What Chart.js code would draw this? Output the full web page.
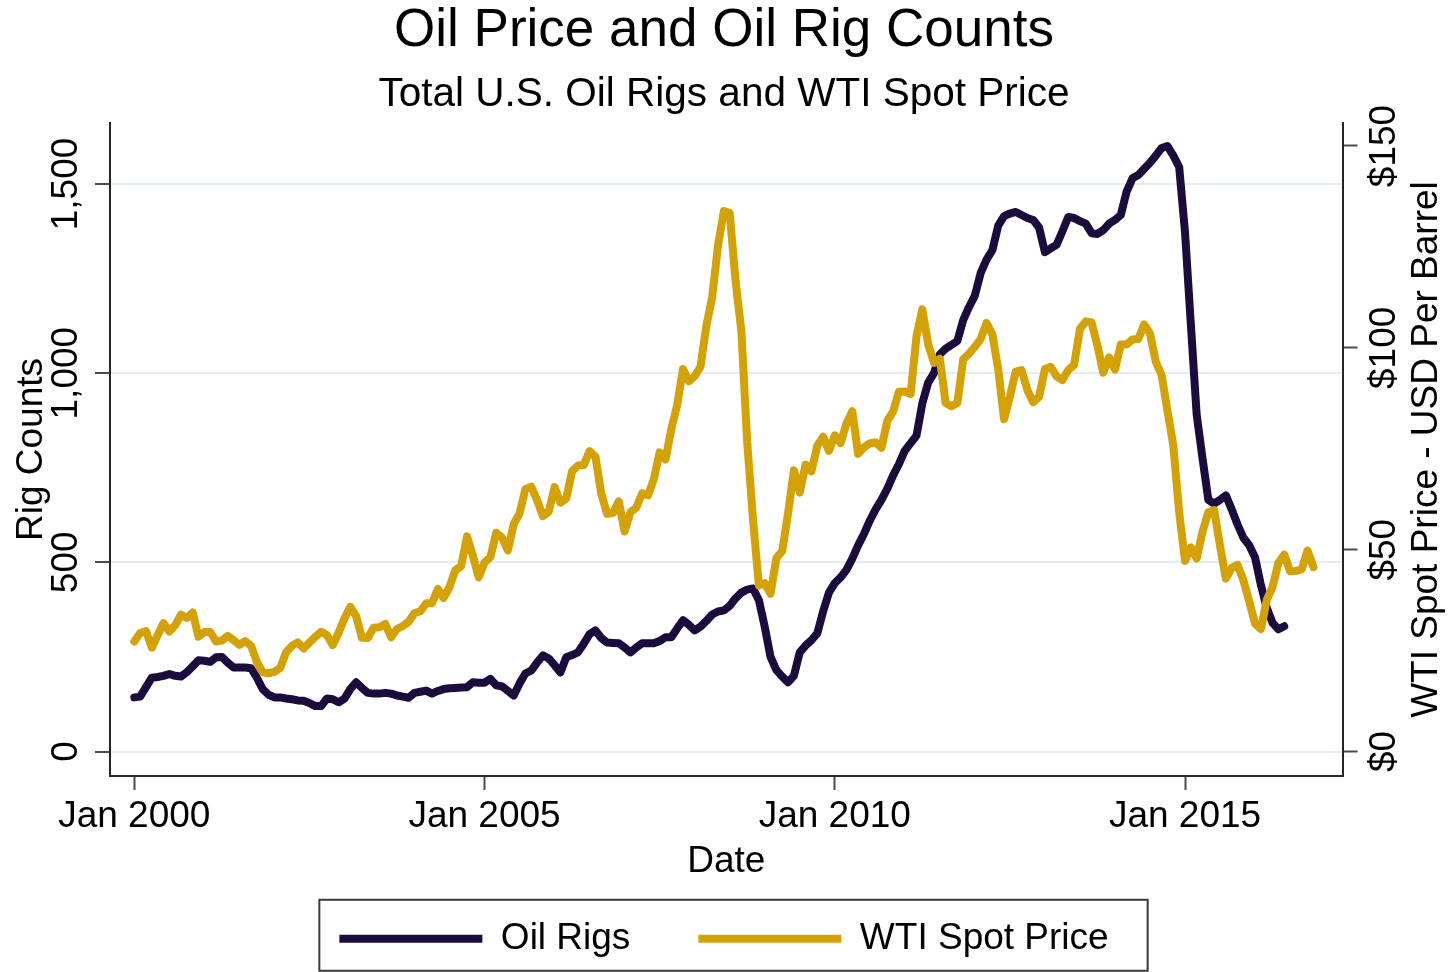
<!DOCTYPE html>
<html>
<head>
<meta charset="utf-8">
<script src="https://cdn.jsdelivr.net/npm/chart.js@4.4.1/dist/chart.umd.min.js"></script>
<style>
html,body{margin:0;padding:0;background:#ffffff;}
canvas{display:block;}
</style>
</head>
<body>
<canvas id="c" width="1448" height="972"></canvas>
<script>
// ---------------- DATA ----------------
// Monthly series starting Jan 2000 (index 0 = Jan 2000)
const startYear = 2000;

// Total U.S. oil rigs (monthly), Jan 2000 - Jun 2016
const oilRigs = [
  143, 145, 170, 195, 197, 200, 205, 200, 198, 210, 225, 241,      // 2000
  240, 237, 249, 250, 235, 222, 222, 222, 220, 195, 165, 150,      // 2001
  143, 143, 140, 138, 135, 134, 128, 120, 120, 140, 138, 130,      // 2002
  140, 165, 183, 168, 155, 153, 153, 155, 153, 148, 145, 142,      // 2003
  155, 158, 161, 153, 160, 165, 167, 168, 169, 170, 183, 182,      // 2004
  182, 192, 175, 172, 160, 148, 180, 206, 214, 235, 254, 246,      // 2005
  228, 209, 249, 255, 262, 285, 310, 320, 300, 288, 287, 286,      // 2006
  275, 262, 275, 286, 286, 286, 292, 302, 302, 325, 347, 335,      // 2007
  320, 330, 345, 362, 370, 373, 385, 405, 420, 428, 431, 400,      // 2008
  330, 250, 215, 198, 183, 200, 262, 280, 294, 312, 370, 420,      // 2009
  445, 460, 480, 510, 545, 575, 610, 640, 665, 695, 730, 760,      // 2010
  795, 815, 835, 920, 975, 1000, 1050, 1065, 1075, 1085, 1140, 1175, // 2011
  1205, 1265, 1300, 1325, 1390, 1415, 1422, 1426, 1418, 1410, 1405, 1385, // 2012
  1320, 1330, 1339, 1375, 1413, 1410, 1402, 1395, 1370, 1368, 1378, 1395, // 2013
  1405, 1418, 1480, 1515, 1524, 1540, 1556, 1575, 1595, 1600, 1575, 1545, // 2014
  1373, 1130, 890, 775, 665, 655, 665, 677, 640, 600, 565, 545,    // 2015
  513, 440, 380, 340, 323, 331                                     // 2016
];

// WTI spot price, USD per barrel (monthly), Jan 2000 - Nov 2016
const wtiPrice = [
  27.26, 29.37, 29.84, 25.72, 28.79, 31.82, 29.70, 31.26, 33.88, 33.11, 34.42, 28.44,   // 2000
  29.59, 29.61, 27.25, 27.49, 28.63, 27.60, 26.43, 27.37, 26.20, 22.17, 19.64, 19.39,   // 2001
  19.72, 20.72, 24.53, 26.18, 27.04, 25.52, 26.97, 28.39, 29.66, 28.84, 26.35, 29.46,   // 2002
  32.95, 35.83, 33.51, 28.17, 28.11, 30.66, 30.76, 31.57, 28.31, 30.34, 31.11, 32.13,   // 2003
  34.31, 34.69, 36.74, 36.75, 40.28, 38.03, 40.78, 44.90, 45.94, 53.28, 48.47, 43.15,   // 2004
  46.84, 48.15, 54.19, 52.98, 49.83, 56.35, 59.00, 64.99, 65.59, 62.26, 58.32, 59.41,   // 2005
  65.49, 61.63, 62.69, 69.44, 70.84, 70.95, 74.41, 73.04, 63.80, 58.89, 59.08, 61.96,   // 2006
  54.51, 59.28, 60.44, 63.98, 63.46, 67.49, 74.12, 72.36, 79.92, 85.80, 94.77, 91.69,   // 2007
  92.97, 95.39, 105.45, 112.58, 125.40, 133.88, 133.37, 116.67, 104.11, 76.61, 57.31, 41.12, // 2008
  41.71, 39.09, 47.94, 49.65, 59.03, 69.64, 64.15, 71.05, 69.41, 75.72, 77.99, 74.47,   // 2009
  78.33, 76.39, 81.20, 84.29, 73.74, 75.34, 76.32, 76.60, 75.24, 81.89, 84.25, 89.15,   // 2010
  89.17, 88.58, 102.86, 109.53, 100.90, 96.26, 97.30, 86.33, 85.52, 86.32, 97.16, 98.56, // 2011
  100.27, 102.20, 106.16, 103.32, 94.66, 82.30, 87.90, 94.13, 94.51, 89.49, 86.53, 87.86, // 2012
  94.76, 95.31, 92.94, 92.02, 94.51, 95.77, 104.67, 106.57, 106.29, 100.54, 93.86, 97.63, // 2013
  94.62, 100.82, 100.80, 102.07, 102.18, 105.79, 103.59, 96.54, 93.21, 84.40, 75.79, 59.29, // 2014
  47.22, 50.58, 47.82, 54.45, 59.27, 59.82, 50.90, 42.87, 45.48, 46.22, 42.44, 37.19,   // 2015
  31.68, 30.32, 37.55, 40.75, 46.71, 48.76, 44.65, 44.72, 45.18, 49.78, 45.66           // 2016
];

// Axis ticks
const dateTickMonths = [0, 60, 120, 180];
const dateTickLabels = ['Jan 2000', 'Jan 2005', 'Jan 2010', 'Jan 2015'];
const rigTicks = [0, 500, 1000, 1500];
const priceTicks = [0, 50, 100, 150];

// Texts
const TITLE = 'Oil Price and Oil Rig Counts';
const SUBTITLE = 'Total U.S. Oil Rigs and WTI Spot Price';
const X_TITLE = 'Date';
const LEFT_TITLE = 'Rig Counts';
const RIGHT_TITLE = 'WTI Spot Price - USD Per Barrel';
const SERIES_NAMES = ['Oil Rigs', 'WTI Spot Price'];

// ---------------- STYLE ----------------
const PURPLE = '#1b0c3d';
const GOLD = '#d4a106';
const GRID = '#e4edef';
const AXIS = '#262626';
const TICKC = '#4a4a4a';
const LINE_W = 8;

function fontAvailable(name) {
  const c = document.createElement('canvas').getContext('2d');
  const probe = 'Jan 2000 WTI Spot Price mmwwiill';
  let diff = false;
  ['monospace', 'serif'].forEach(fb => {
    c.font = '40px ' + fb; const a = c.measureText(probe).width;
    c.font = '40px "' + name + '", ' + fb; const b = c.measureText(probe).width;
    if (a !== b) diff = true;
  });
  return diff;
}
const NARROW = fontAvailable('Liberation Sans Narrow');
const FAMILY = NARROW ? '"Liberation Sans Narrow", "Liberation Sans", Arial, sans-serif'
                      : '"Liberation Sans", Arial, Helvetica, sans-serif';
const K = NARROW ? 1.17 : 1.0;

const FS_TITLE = 53 * K;
const FS_SUB = 40.5 * K;
const FS_TICK = 37 * K;
const FS_AXIS = 37 * K;
const FS_LEG = 37 * K;

const mid = (capCenter, fs) => capCenter + 0.048 * fs;

// Plot area (reference pixels)
const AREA = {left: 110, right: 1342.5, top: 123, bottom: 776};
const W = 1448, H = 972;

// Title layout
const titlePadTop = mid(29, FS_TITLE) - FS_TITLE / 2;
const titleBottom = titlePadTop + FS_TITLE;
const subPadTop = mid(92.5, FS_SUB) - FS_SUB / 2 - titleBottom;
const subPadBottom = AREA.top - (titleBottom + subPadTop + FS_SUB);

// Legend layout
const LEG_GAP = 68;
const legMid = mid(937, FS_LEG);
const legendTop = legMid - LEG_GAP - FS_LEG / 2;
const legendBottom = legendTop + FS_LEG + LEG_GAP + 10;
const layoutPadBottom = H - legendBottom;
const xAxisHeight = legendTop - AREA.bottom;
const xTickPad = mid(815, FS_TICK) - AREA.bottom - 14 - FS_TICK / 2;
const xTitlePadBottom = legendTop - mid(860, FS_AXIS) - FS_AXIS / 2;

// Measure tick label widths for rotated, centered y labels
const mctx = document.createElement('canvas').getContext('2d');
mctx.font = FS_TICK + 'px ' + FAMILY;
const fmtRig = v => v.toLocaleString('en-US');
const fmtPrice = v => '$' + v;
const widestLeft = Math.max(...rigTicks.map(v => mctx.measureText(fmtRig(v)).width));
const widestRight = Math.max(...priceTicks.map(v => mctx.measureText(fmtPrice(v)).width));
const leftTickPad = (AREA.left - 15 - mid(65, FS_TICK)) - widestLeft / 2;
const rightTickPad = (mid(1383.5, FS_TICK) - AREA.right - 15) - widestRight / 2;
const leftTitlePad = mid(30, FS_AXIS) - FS_AXIS / 2;

// Scale ranges derived from the reference's tick positions
const rigPx = (751.5 - 184) / 1500;
const pricePx = (751.5 - 146) / 150;
const monthPx = (1185 - 134.3) / 180;
const rigMin = -(AREA.bottom - 751.5) / rigPx, rigMax = (751.5 - AREA.top) / rigPx;
const priceMin = -(AREA.bottom - 751.5) / pricePx, priceMax = (751.5 - AREA.top) / pricePx;
const xMin = (AREA.left - 134.3) / monthPx, xMax = (AREA.right - 134.3) / monthPx;

const font = (size) => ({family: FAMILY, size: size, weight: 'normal', lineHeight: 1});

// ---------------- PLUGINS ----------------
const rightTitlePlugin = {
  id: 'rightTitle',
  afterDraw(chart) {
    const {ctx, chartArea} = chart;
    ctx.save();
    ctx.font = FS_AXIS + 'px ' + FAMILY;
    ctx.fillStyle = '#000';
    ctx.textAlign = 'center';
    ctx.textBaseline = 'middle';
    ctx.translate(mid(1425.5, FS_AXIS), (chartArea.top + chartArea.bottom) / 2);
    ctx.rotate(-Math.PI / 2);
    ctx.fillText(RIGHT_TITLE, 0, 0);
    ctx.restore();
  }
};

const legendFramePlugin = {
  id: 'legendFrame',
  afterDraw(chart) {
    const lg = chart.legend;
    if (!lg || !lg.legendHitBoxes || !lg.legendHitBoxes.length) return;
    const hb = lg.legendHitBoxes;
    const first = hb[0], last = hb[hb.length - 1];
    const cy = first.top + first.height / 2;
    const x0 = first.left - 20;
    const x1 = last.left + last.width + 39;
    const ctx = chart.ctx;
    ctx.save();
    ctx.strokeStyle = '#3a3a3a';
    ctx.lineWidth = 2;
    ctx.strokeRect(x0, cy - 39, x1 - x0, 71);
    ctx.restore();
  }
};

// ---------------- CHART ----------------
const toPoints = arr => arr.map((v, i) => ({x: i, y: v}));

new Chart(document.getElementById('c').getContext('2d'), {
  type: 'line',
  data: {
    datasets: [
      {
        label: SERIES_NAMES[0],
        data: toPoints(oilRigs),
        yAxisID: 'yRigs',
        borderColor: PURPLE,
        backgroundColor: PURPLE,
        borderWidth: LINE_W,
        pointRadius: 0,
        tension: 0,
        borderJoinStyle: 'round',
        borderCapStyle: 'round',
        order: 1
      },
      {
        label: SERIES_NAMES[1],
        data: toPoints(wtiPrice),
        yAxisID: 'yPrice',
        borderColor: GOLD,
        backgroundColor: GOLD,
        borderWidth: LINE_W,
        pointRadius: 0,
        tension: 0,
        borderJoinStyle: 'round',
        borderCapStyle: 'round',
        order: 0
      }
    ]
  },
  options: {
    responsive: false,
    animation: false,
    devicePixelRatio: 1,
    layout: {padding: {left: 0, right: 0, top: 0, bottom: layoutPadBottom}},
    plugins: {
      title: {
        display: true, text: TITLE, color: '#000',
        font: font(FS_TITLE), padding: {top: titlePadTop, bottom: 0}
      },
      subtitle: {
        display: true, text: SUBTITLE, color: '#000',
        font: font(FS_SUB), padding: {top: subPadTop, bottom: subPadBottom}
      },
      legend: {
        display: true,
        position: 'bottom',
        align: 'center',
        labels: {
          boxWidth: 143,
          boxHeight: 8,
          padding: LEG_GAP,
          color: '#000',
          font: font(FS_LEG),
          generateLabels(chart) {
            return chart.data.datasets.map((ds, i) => ({
              text: ds.label,
              fillStyle: ds.borderColor,
              strokeStyle: ds.borderColor,
              lineWidth: 0,
              hidden: false,
              datasetIndex: i,
              fontColor: '#000'
            }));
          }
        }
      },
      tooltip: {enabled: false}
    },
    scales: {
      x: {
        type: 'linear',
        position: 'bottom',
        min: xMin,
        max: xMax,
        afterBuildTicks(scale) { scale.ticks = dateTickMonths.map(v => ({value: v})); },
        afterFit(scale) { scale.height = xAxisHeight; },
        ticks: {
          autoSkip: false, minRotation: 0, maxRotation: 0,
          padding: xTickPad, color: '#000', font: font(FS_TICK),
          callback: (v) => dateTickLabels[dateTickMonths.indexOf(v)]
        },
        grid: {drawOnChartArea: false, drawTicks: true, tickLength: 14, tickColor: TICKC, tickWidth: 2},
        border: {display: true, color: AXIS, width: 2},
        title: {display: true, text: X_TITLE, color: '#000', font: font(FS_AXIS), padding: {top: 0, bottom: xTitlePadBottom}}
      },
      yRigs: {
        type: 'linear',
        position: 'left',
        min: rigMin,
        max: rigMax,
        afterBuildTicks(scale) { scale.ticks = rigTicks.map(v => ({value: v})); },
        afterFit(scale) { scale.width = AREA.left; },
        ticks: {
          autoSkip: false, minRotation: 90, maxRotation: 90, crossAlign: 'center',
          padding: leftTickPad, color: '#000', font: font(FS_TICK),
          callback: (v) => fmtRig(v)
        },
        grid: {drawOnChartArea: true, color: GRID, lineWidth: 2, drawTicks: true, tickLength: 15, tickColor: TICKC, tickWidth: 2},
        border: {display: true, color: AXIS, width: 2},
        title: {display: true, text: LEFT_TITLE, color: '#000', font: font(FS_AXIS), padding: {top: leftTitlePad, bottom: 0}}
      },
      yPrice: {
        type: 'linear',
        position: 'right',
        min: priceMin,
        max: priceMax,
        afterBuildTicks(scale) { scale.ticks = priceTicks.map(v => ({value: v})); },
        afterFit(scale) { scale.width = W - AREA.right; },
        ticks: {
          autoSkip: false, minRotation: 90, maxRotation: 90, crossAlign: 'center',
          padding: rightTickPad, color: '#000', font: font(FS_TICK),
          callback: (v) => fmtPrice(v)
        },
        grid: {drawOnChartArea: false, drawTicks: true, tickLength: 15, tickColor: TICKC, tickWidth: 2},
        border: {display: true, color: AXIS, width: 2},
        title: {display: false, text: RIGHT_TITLE}
      }
    }
  },
  plugins: [rightTitlePlugin, legendFramePlugin]
});
</script>
</body>
</html>
